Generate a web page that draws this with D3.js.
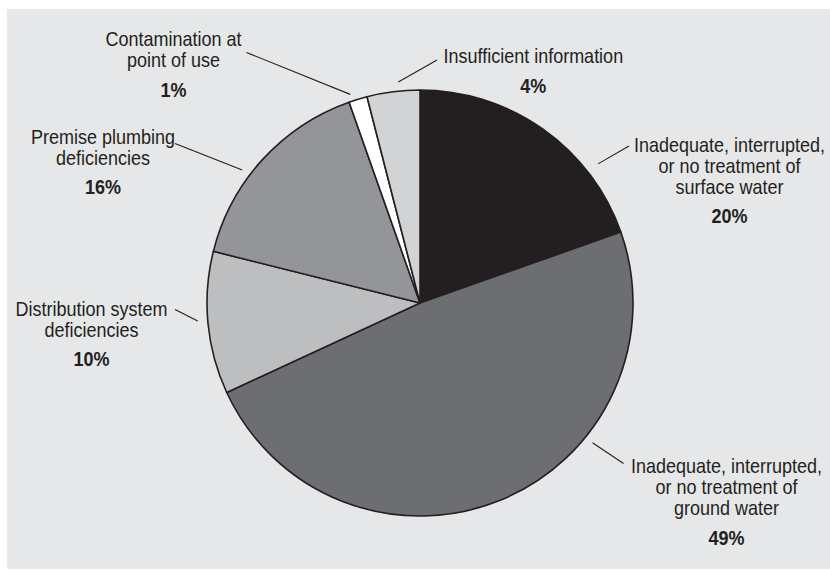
<!DOCTYPE html>
<html>
<head>
<meta charset="utf-8">
<script src="https://cdn.jsdelivr.net/npm/d3@7"></script>
<style>
  html, body { margin: 0; padding: 0; background: #ffffff; }
  svg { display: block; }
</style>
</head>
<body>
<svg id="chart" width="830" height="570"></svg>
<script>
// ---- Data ----
const categories = [
  "Inadequate, interrupted, or no treatment of surface water",
  "Inadequate, interrupted, or no treatment of ground water",
  "Distribution system deficiencies",
  "Premise plumbing deficiencies",
  "Contamination at point of use",
  "Insufficient information"
];
const shares = [19.6, 48.5, 10.8, 15.7, 1.4, 4.0];           // slice sizes as drawn
const percentLabels = ["20%", "49%", "10%", "16%", "1%", "4%"]; // printed labels
const labelLines = [
  ["Inadequate, interrupted,", "or no treatment of", "surface water"],
  ["Inadequate, interrupted,", "or no treatment of", "ground water"],
  ["Distribution system", "deficiencies"],
  ["Premise plumbing", "deficiencies"],
  ["Contamination at", "point of use"],
  ["Insufficient information"]
];

// ---- Styles / layout ----
const fills = ["#231f20", "#6d6e71", "#bcbec0", "#939598", "#ffffff", "#d1d3d4"];
const textColor = "#231f20";
const cx = 420, cy = 303, radius = 213;
// label block: centre x, first baseline y, leader: angle (deg, clockwise from top), outer end
const labelLayout = [
  { x: 729.5, y: 151.5, leadAngle: 52,  leadR: 226, ex: 629,   ey: 146 },
  { x: 726.5, y: 473,   leadAngle: 129, leadR: 222, ex: 623.5, ey: 463.5 },
  { x: 91.5,  y: 315.7, leadAngle: 265.4, leadR: 223, ex: 175, ey: 309.5 },
  { x: 103,   y: 143.5, leadAngle: 306.8, leadR: 222, ex: 175, ey: 143.5 },
  { x: 173.5, y: 46,    leadAngle: 341.5, leadR: 220, ex: 246.5, ey: 52.5 },
  { x: 533.3, y: 63.3,  leadAngle: 354.4, leadR: 222, ex: 437, ey: 60 }
];
const lineHeight = 21, pctGap = 29.5, fontSize = 20, condense = 0.9;

const svg = d3.select("#chart");

svg.append("rect")
  .attr("x", 7).attr("y", 9)
  .attr("width", 823).attr("height", 560)
  .attr("fill", "#e6e7e8");

const data = categories.map((c, i) => ({ name: c, value: shares[i], i }));

const pie = d3.pie().value(d => d.value).sort(null).startAngle(0).endAngle(2 * Math.PI);
const arc = d3.arc().innerRadius(0).outerRadius(radius);
const arcs = pie(data);

const g = svg.append("g").attr("transform", `translate(${cx},${cy})`);

g.selectAll("path.slice")
  .data(arcs)
  .join("path")
  .attr("class", "slice")
  .attr("d", arc)
  .attr("fill", d => fills[d.data.i])
  .attr("stroke", "#231f20")
  .attr("stroke-width", 1.6)
  .attr("stroke-linejoin", "round");

// leader lines
svg.append("g").selectAll("line")
  .data(labelLayout)
  .join("line")
  .attr("x1", d => cx + d.leadR * Math.sin(d.leadAngle * Math.PI / 180))
  .attr("y1", d => cy - d.leadR * Math.cos(d.leadAngle * Math.PI / 180))
  .attr("x2", d => d.ex)
  .attr("y2", d => d.ey)
  .attr("stroke", textColor)
  .attr("stroke-width", 1.1);

// labels (horizontally condensed to mimic the narrow typeface)
const lg = svg.append("g")
  .attr("font-family", "'Liberation Sans', Arial, sans-serif")
  .attr("font-size", fontSize)
  .attr("fill", textColor)
  .attr("text-anchor", "middle");

labelLayout.forEach((L, i) => {
  labelLines[i].forEach((line, k) => {
    lg.append("text")
      .attr("transform", `translate(${L.x},${L.y + k * lineHeight}) scale(${condense},1)`)
      .text(line);
  });
  lg.append("text")
    .attr("transform", `translate(${L.x},${L.y + (labelLines[i].length - 1) * lineHeight + pctGap}) scale(${condense},1)`)
    .attr("font-weight", "bold")
    .text(percentLabels[i]);
});
</script>
</body>
</html>
